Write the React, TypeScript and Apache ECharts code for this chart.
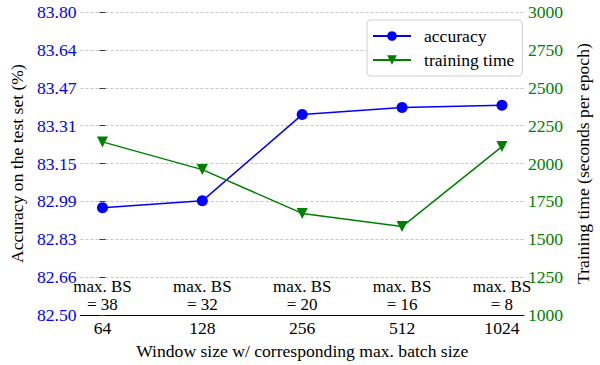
import React, { useEffect, useRef } from "react";
import * as echarts from "echarts";

const windowSizes = ["64", "128", "256", "512", "1024"];
const maxBatchLabels = ["max. BS\n= 38", "max. BS\n= 32", "max. BS\n= 20", "max. BS\n= 16", "max. BS\n= 8"];
const accuracy = [82.96, 82.99, 83.36, 83.39, 83.4];
const trainingTime = [2143, 1960, 1671, 1584, 2112];
const accTickLabels = ["82.50", "82.66", "82.83", "82.99", "83.15", "83.31", "83.47", "83.64", "83.80"];
const accMin = 82.5;
const accMax = 83.8;
const timeMin = 1000;
const timeMax = 3000;
const timeInterval = 250;

const FONT = "Liberation Serif";
const FS = 17.6;
const BLUE = "#0000ff";
const GREEN = "#008000";
const TRI_DOWN = "path://M0,0 L10,0 L5,10 Z";

export default function App() {
  const ref = useRef<HTMLDivElement>(null);
  useEffect(() => {
    if (!ref.current) return;
    const chart = echarts.init(ref.current, undefined, { renderer: "svg" });
    const accStep = (accMax - accMin) / (accTickLabels.length - 1);
    const xLabel = (arr: string[]) => (v: number) => {
      const i = Math.round(v);
      return Math.abs(v - i) < 1e-6 && i >= 0 && i < arr.length ? arr[i] : "";
    };
    const xBase = { type: "value", min: -0.22, max: 4.22, interval: 0.02, position: "bottom" };
    const option: any = {
      animation: false,
      backgroundColor: "#ffffff",
      textStyle: { fontFamily: FONT },
      grid: { left: 77, right: 67, top: 12, bottom: 45, containLabel: false },
      legend: {
        orient: "vertical",
        left: 367,
        top: 20,
        padding: [7, 8, 7, 5],
        itemGap: 6,
        itemWidth: 38,
        itemHeight: 12,
        borderColor: "#d0d0d0",
        borderWidth: 1,
        borderRadius: 4,
        backgroundColor: "#ffffff",
        textStyle: { fontFamily: FONT, fontSize: FS, color: "#000", padding: [0, 0, 0, 8] },
        data: ["accuracy", "training time"],
      },
      xAxis: [
        {
          ...xBase,
          axisLine: { show: true, lineStyle: { color: "#000", width: 1.2 } },
          axisTick: { show: false },
          splitLine: { show: false },
          axisLabel: {
            color: "#000",
            fontFamily: FONT,
            fontSize: FS,
            margin: 4,
            formatter: xLabel(windowSizes),
          },
          name: "Window size w/ corresponding max. batch size",
          nameLocation: "middle",
          nameGap: 23,
          nameTextStyle: { color: "#000", fontFamily: FONT, fontSize: FS, verticalAlign: "top" },
        },
        {
          ...xBase,
          axisLine: { show: false },
          axisTick: { show: false },
          splitLine: { show: false },
          axisLabel: {
            inside: true,
            color: "#000",
            fontFamily: FONT,
            fontSize: 17,
            lineHeight: 18,
            margin: 1.5,
            formatter: xLabel(maxBatchLabels),
          },
        },
      ],
      yAxis: [
        {
          type: "value",
          position: "right",
          min: timeMin,
          max: timeMax,
          interval: timeInterval,
          axisLine: { show: false },
          axisTick: { show: true, length: 3, lineStyle: { color: "#333" } },
          splitLine: { show: true, lineStyle: { color: "#b8b8b8", type: [3, 2], width: 0.8 } },
          axisLabel: {
            color: GREEN,
            fontFamily: FONT,
            fontSize: FS,
            margin: 4,
            formatter: (v: number) => String(v),
          },
          name: "Training time (seconds per epoch)",
          nameLocation: "middle",
          nameRotate: 90,
          nameGap: 42,
          nameTextStyle: { color: "#000", fontFamily: FONT, fontSize: FS },
        },
        {
          type: "value",
          position: "left",
          min: accMin,
          max: accMax,
          alignTicks: true,
          axisLine: { show: false },
          axisTick: { show: true, length: 3, lineStyle: { color: "#333" } },
          splitLine: { show: false },
          axisLabel: {
            color: BLUE,
            fontFamily: FONT,
            fontSize: FS,
            margin: 4,
            formatter: (v: number) => {
              const i = Math.round((v - accMin) / accStep);
              return accTickLabels[i] ?? "";
            },
          },
          name: "Accuracy on the test set (%)",
          nameLocation: "middle",
          nameRotate: 90,
          nameGap: 45,
          nameTextStyle: { color: "#000", fontFamily: FONT, fontSize: FS },
        },
      ],
      series: [
        {
          name: "accuracy",
          type: "line",
          xAxisIndex: 0,
          yAxisIndex: 1,
          data: accuracy.map((v, i) => [i, v]),
          symbol: "circle",
          symbolSize: 11,
          itemStyle: { color: BLUE },
          lineStyle: { color: BLUE, width: 1.5 },
          z: 2,
        },
        {
          name: "training time",
          type: "line",
          xAxisIndex: 0,
          yAxisIndex: 0,
          data: trainingTime.map((v, i) => [i, v]),
          symbol: TRI_DOWN,
          symbolSize: 11,
          itemStyle: { color: GREEN },
          lineStyle: { color: GREEN, width: 1.5 },
          z: 3,
        },
      ],
    };
    chart.setOption(option);
    return () => chart.dispose();
  }, []);
  return (
    <div
      ref={ref}
      style={{ position: "fixed", left: 0, top: 0, width: 600, height: 365, background: "#fff" }}
    />
  );
}
